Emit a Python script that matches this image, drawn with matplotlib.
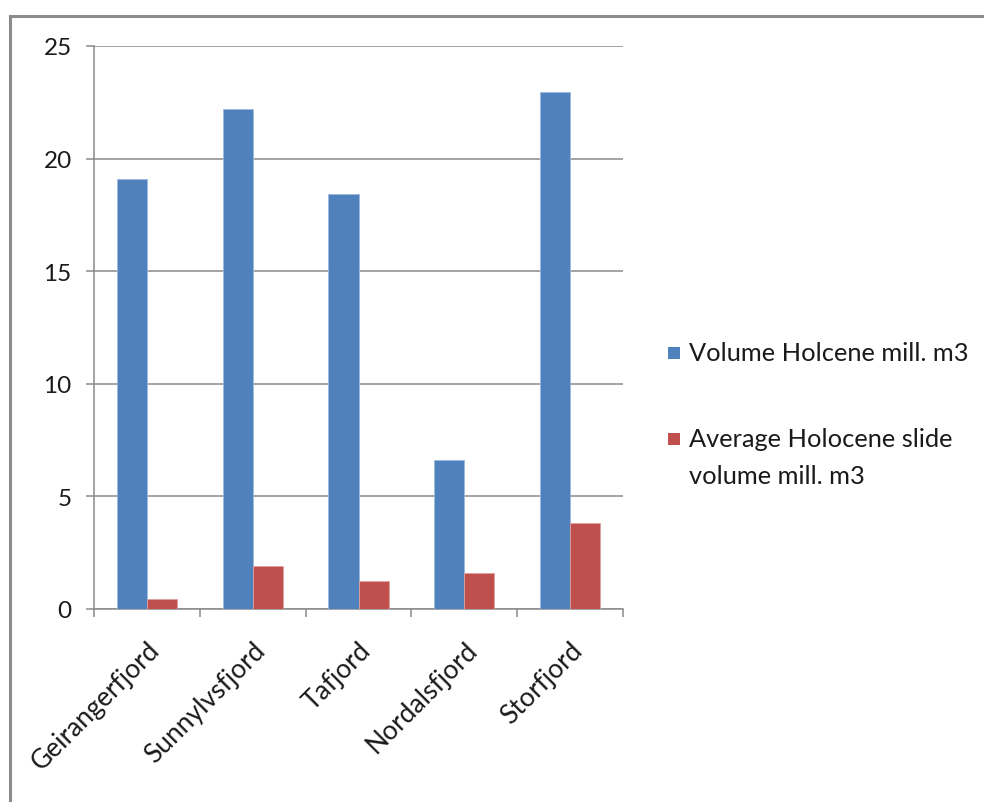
import matplotlib
matplotlib.use("Agg")
import matplotlib.pyplot as plt
from matplotlib.patches import Rectangle
from matplotlib.lines import Line2D
import numpy as np

# Fjord data (million m3)
fjords = ["Geirangerfjord", "Sunnylvsfjord", "Tafjord", "Nordalsfjord", "Storfjord"]
volume_holocene = [19.1, 22.2, 18.43, 6.62, 22.95]
avg_slide_volume = [0.43, 1.9, 1.23, 1.59, 3.8]
series_names = ["Volume Holcene mill. m3", "Average Holocene slide\nvolume mill. m3"]
series_colors = ["#4F81BD", "#C0504D"]
y_ticks = [0, 5, 10, 15, 20, 25]

plt.rcParams["font.family"] = ["Lato", "DejaVu Sans"]
FS = 17.5
FS_CAT = 19
FS_LEG = 18.3

W, H = 984, 803
fig = plt.figure(figsize=(W / 100, H / 100), dpi=100)
ax = fig.add_axes([94 / W, 1 - 610 / H, (623 - 94) / W, (610 - 47) / H])

x = np.arange(len(fjords))
bw = 0.285
ax.bar(x - bw / 2, volume_holocene, width=bw, color=series_colors[0],
       edgecolor="#9DB9DE", linewidth=0.6, zorder=3)
ax.bar(x + bw / 2, avg_slide_volume, width=bw, color=series_colors[1],
       edgecolor="#E0A09E", linewidth=0.6, zorder=3)

ax.set_xlim(-0.5, len(fjords) - 0.5)
ax.set_ylim(0, 25)
ax.set_yticks(y_ticks)
ax.set_yticklabels([str(v) for v in y_ticks], fontsize=FS, color="#1a1a1a")
ax.yaxis.grid(True, color="#8a8a8a", linewidth=1.1, zorder=0)
ax.set_axisbelow(True)

# category ticks sit on the boundaries between groups
ax.set_xticks(np.arange(len(fjords) + 1) - 0.5)
ax.set_xticklabels([])
ax.set_xticks(x, minor=True)
ax.set_xticklabels(fjords, minor=True, rotation=45, ha="right", va="top",
                   rotation_mode="anchor", fontsize=FS_CAT, color="#1a1a1a")
ax.tick_params(axis="x", which="minor", length=0, pad=20)
ax.tick_params(axis="x", which="major", length=6, color="#8a8a8a", width=1.1)
ax.tick_params(axis="y", length=6, color="#8a8a8a", width=1.1, pad=10)

for s in ["top", "right"]:
    ax.spines[s].set_visible(False)
for s in ["left", "bottom"]:
    ax.spines[s].set_color("#8a8a8a")
    ax.spines[s].set_linewidth(1.1)

# legend on the right
legend_rows = [354, 440]
for name, color, yy in zip(series_names, series_colors, legend_rows):
    fig.patches.append(Rectangle((668 / W, 1 - (yy + 6) / H), 12 / W, 12 / H,
                                 transform=fig.transFigure, facecolor=color,
                                 edgecolor="none"))
    for i, ln in enumerate(name.split("\n")):
        fig.text(689 / W, 1 - (yy + i * 37) / H, ln, fontsize=FS_LEG, color="#1a1a1a",
                 ha="left", va="center", transform=fig.transFigure)

# chart frame
frame_kw = dict(color="#8c8c8c", linewidth=2.2, transform=fig.transFigure)
fig.add_artist(Line2D([10 / W, 1.0], [1 - 17 / H, 1 - 17 / H], **frame_kw))
fig.add_artist(Line2D([10 / W, 10 / W], [0, 1 - 17 / H], **frame_kw))

fig.savefig("out.png", dpi=100, facecolor="white")
